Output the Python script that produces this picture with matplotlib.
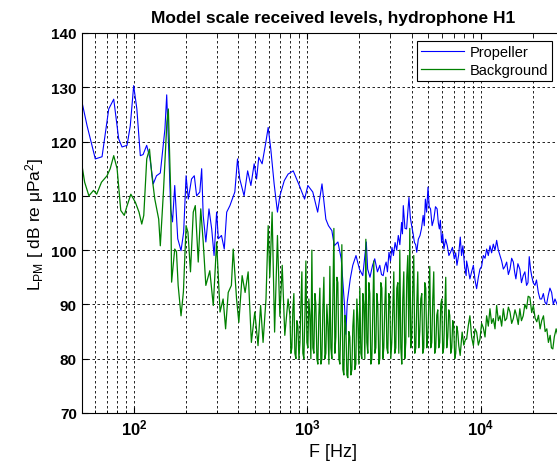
import matplotlib
matplotlib.use("Agg")
import matplotlib.pyplot as plt
import numpy as np

plt.rcParams['font.family'] = ['Liberation Sans', 'DejaVu Sans']
plt.rcParams['mathtext.fontset'] = 'custom'
plt.rcParams['mathtext.rm'] = 'Liberation Sans'
plt.rcParams['mathtext.it'] = 'Liberation Sans:italic'
plt.rcParams['mathtext.bf'] = 'Liberation Sans:bold'

# Propeller (blue)
blue_f = [50, 53.7, 59.9, 65.5, 71.6, 76.5, 81.7, 85.4, 91.3, 95.3, 99.7, 104, 108.9, 113, 118.5,
          123.8, 129.3, 135, 142, 151, 154.6, 159, 163, 167, 172, 179, 187, 193.6, 200,
          206, 215, 223, 230, 240, 246, 251, 260, 271, 281, 290, 300, 307, 320, 332, 343,
          358, 382, 396, 408, 432, 453, 473, 494, 510, 525, 549, 575, 595, 616, 644, 673,
          695, 737, 775, 830, 900, 965, 1008, 1076, 1148, 1216, 1280, 1325, 1386, 1432,
          1502, 1570, 1600, 1640, 1670, 1700, 1770, 1830, 1910, 2000, 2090, 2190, 2230,
          2300, 2380, 2450, 2540, 2620, 2680, 2740, 2800, 2850, 2900, 2960, 3020, 3080,
          3140, 3210, 3280, 3350, 3420, 3500, 3540, 3580, 3660, 3740, 3800, 3860, 3930,
          4000, 4080, 4150, 4220, 4280, 4370, 4470, 4560, 4660, 4730, 4800, 4880, 4970,
          5050, 5140, 5250, 5370, 5490, 5610, 5700, 5780, 5860, 5950, 6040, 6140, 6280,
          6420, 6560, 6700, 6880, 7050, 7180, 7300, 7460, 7630, 7760, 7900, 8080, 8250,
          8300, 8670, 9080, 9480, 9910, 10360, 10830, 11320, 11830, 12370, 12930, 13520,
          14130, 14770, 15440, 15970, 16830, 17600, 18400, 19070, 19680, 20570, 21510,
          22480, 23500, 24560, 25680, 26840, 28000, 30000]
blue_db = [127.5, 122.9, 116.8, 117.2, 126.0, 127.8, 120.5, 119.0, 119.3, 122.9, 130.3, 126.0, 117.4, 117.6, 119.3,
           116.9, 112.2, 113.7, 114.2, 122.3, 128.6, 118.0, 107.6, 105.2, 111.9, 102.1, 99.9, 103.3, 113.7,
           109.4, 113.1, 113.7, 110.0, 110.7, 115.0, 106.4, 101.5, 107.6, 103.9, 99.0, 107.0, 102.1, 102.7, 100.2, 107.0,
           108.2, 110.7, 116.8, 113.1, 110.0, 114.6, 111.9, 115.9, 113.1, 117.1, 115.9, 119.6, 122.6, 118.6, 112.2, 107.0,
           110.0, 112.8, 114.0, 114.6, 111.9, 109.4, 111.9, 110.7, 107.0, 112.2, 105.7, 104.5, 103.6, 100.8,
           101.5, 98.4, 94.7, 89.8, 84.5, 90.4, 94.7, 97.2, 99.0, 96.5, 95.3, 101.5, 96.5,
           95.0, 97.2, 98.4, 96.0, 97.2, 95.5, 95.3, 97.0, 97.8, 96.0, 99.6, 98.0, 100.5,
           99.0, 101.4, 100.0, 102.7, 101.0, 105.1, 103.0, 108.2, 104.0, 103.9, 107.0, 109.7, 106.0,
           104.5, 103.0, 101.4, 101.0, 99.6, 102.0, 102.7, 104.0, 106.4, 104.5, 109.4, 107.0, 111.6,
           108.0, 107.6, 104.5, 105.7, 108.0, 107.6, 105.0, 103.9, 105.5, 101.4, 103.0, 100.2, 102.0,
           100.8, 99.0, 99.6, 100.5, 98.4, 99.5, 97.2, 99.0, 102.4, 99.0, 100.8, 97.0, 95.3,
           98.0, 94.7, 97.2, 92.9, 96.5, 99.0, 100.2, 100.8, 101.1, 101.8, 99.0, 96.5,
           97.8, 96.5, 97.8, 94.7, 96.5, 95.3, 93.5, 98.8, 95.3, 93.5, 92.2,
           91.0, 90.4, 91.7, 92.2, 91.0, 89.5, 89.0]
# extra wiggles of the blue line above 8 kHz
blue_extra_f = [8480, 8870, 9280, 9700, 10130, 10600, 11070, 11570, 12100, 12650, 13220, 13820,
                14450, 15100, 15700, 16400, 17200, 18000, 18750, 19400, 20100, 21000, 22000,
                23000, 24000, 25100, 26250]
blue_extra_db = [96.5, 96.0, 94.5, 95.0, 97.0, 98.5, 99.0, 99.5, 100.0, 100.0, 98.0, 97.0,
                 95.5, 98.5, 96.0, 97.5, 94.0, 96.0, 94.0, 96.5, 94.0, 94.5, 91.0,
                 92.0, 90.0, 93.0, 90.0]

# Background (green)
green_f = [50, 52, 55, 58.5, 61, 65, 70, 73, 76.5, 80, 84, 88, 91, 96, 102, 107, 111, 114, 118.6,
           123, 127, 132, 139, 142, 148, 155, 158, 163, 165, 172, 176, 180, 187, 193, 200,
           205, 212, 220, 226, 235, 243, 251, 260, 274, 287, 300, 314, 327, 338, 350, 365,
           374, 391, 403, 421, 438, 456, 476, 498, 520, 538, 556, 578, 595, 608, 627, 648,
           673, 695, 717, 742, 775,
           794, 815, 837, 860, 883, 907, 931, 956, 982, 1008, 1035, 1063, 1092, 1121, 1151,
           1182, 1214, 1247, 1280, 1315, 1350, 1386, 1424, 1462, 1501, 1542, 1583, 1626,
           1670, 1714, 1760, 1808, 1856, 1906, 1958, 2010, 2064, 2120, 2177, 2235, 2295,
           2357, 2420, 2486, 2552, 2621, 2692, 2764, 2838, 2915, 2993, 3073, 3156, 3241,
           3328, 3418, 3509, 3604, 3701, 3800, 3902, 4007, 4115, 4226, 4339, 4456, 4576,
           4699, 4825, 4955, 5088, 5225, 5365, 5510, 5658, 5810, 5966, 6127, 6291, 6461,
           6634, 6813, 6996, 7184, 7377, 7480, 7620, 7820, 8000, 8180,
           8300, 8480, 8670, 8870, 9080, 9280, 9480, 9700, 9910, 10130, 10360, 10600,
           10830, 11070, 11320, 11570, 11830, 12100, 12370, 12650, 12930, 13220, 13520,
           13820, 14130, 14450, 14770, 15100, 15440, 15780, 16130, 16480, 16830, 17200,
           17600, 18000, 18400, 18800, 19240, 19700, 20140, 20600, 21080, 21550, 22030,
           22500, 23040, 23550, 24080, 24600, 25170, 25600, 26080, 26600, 27260, 28000, 29000]
green_db = [115.9, 112.5, 110.0, 111.0, 110.3, 112.5, 113.7, 115.0, 117.4, 115.0, 107.3, 106.4, 108.0, 110.3, 108.8, 107.0, 104.8, 106.4, 116.8,
            118.6, 113.7, 109.4, 105.7, 100.8, 110.7, 123.6, 126.0, 110.7, 94.1, 100.2, 99.7, 93.5, 87.9, 92.3, 104.5,
            103.3, 96.0, 107.0, 108.2, 97.8, 107.6, 101.5, 93.5, 96.2, 89.8, 101.5, 88.6, 91.0, 85.5, 92.2, 93.5,
            100.2, 91.0, 86.7, 95.3, 92.2, 96.0, 83.0, 88.6, 82.4, 89.8, 83.0, 91.0, 104.5, 95.0, 107.0, 84.9,
            102.7, 87.8, 97.2, 84.3, 91.0,
            88, 82, 92, 80, 86, 83, 96, 80, 98, 82, 88, 100, 81, 90, 79,
            93, 80, 95, 81, 86, 97, 80, 104, 84, 94, 79, 101, 77,
            86, 76.5, 84, 78, 89, 79, 87, 93, 80, 90, 102, 81, 92,
            80, 98, 82, 90, 80, 93, 82, 95, 81, 91, 83, 96, 82,
            94, 100, 79, 96, 83, 99, 104, 84, 99, 82, 96, 85, 92,
            82, 93, 84, 97, 83, 96, 82, 89, 83, 91, 82, 95, 84,
            88, 82, 86, 81, 85, 82.4, 80.6, 84.9, 82.5, 83.6,
            83.6, 86.0, 87.9, 84.0, 82.4, 85.5, 84.9, 82.5, 83.6, 86.5, 85.7, 84.0,
            87.9, 86.0, 89.2, 86.5, 87.4, 85.5, 89.8, 87.0, 87.9, 86.0, 89.2,
            87.0, 87.4, 89.5, 88.6, 86.5, 87.4, 89.0, 87.9, 86.3, 89.2, 87.0,
            87.9, 90.0, 89.2, 91.5, 91.3, 88.5, 89.8, 87.5, 86.8, 88.0, 85.5,
            87.0, 87.9, 85.0, 85.5, 83.0, 84.3, 82.0, 81.8, 84.0, 85.5, 84.0, 85.0]
# in-between samples of the dense green band (0.8 - 7.3 kHz)
green_extra_f = [805, 826, 848, 871, 895, 919, 943, 969, 995, 1021, 1049, 1077, 1107, 1136, 1166,
                 1198, 1230, 1264, 1297, 1333, 1368, 1405, 1443, 1482, 1521, 1563, 1604, 1648,
                 1692, 1737, 1784, 1832, 1881, 1932, 1984, 2037, 2092, 2148, 2206, 2265, 2326,
                 2388, 2453, 2519, 2586, 2656, 2728, 2801, 2876, 2954, 3033, 3114, 3198, 3284,
                 3372, 3464, 3556, 3652, 3750, 3851, 3954, 4061, 4170, 4282, 4397, 4516, 4637,
                 4762, 4890, 5021, 5156, 5295, 5437, 5584, 5734, 5888, 6046, 6209, 6375, 6548,
                 6723, 6904, 7090, 7280]
green_extra_db = [81, 89, 81, 87, 80, 90, 81, 88, 83, 91, 80, 82, 92, 80, 88,
                  79, 89, 80, 90, 79, 82, 91, 81, 95, 80, 87, 78, 88,
                  77, 85, 77, 86, 78, 91, 79, 81, 92, 80, 83, 94, 79,
                  89, 81, 92, 79, 94, 80, 90, 82, 92, 80, 89, 81, 93,
                  81, 82, 91, 80, 95, 84, 82, 93, 81, 90, 82, 91, 81,
                  94, 82, 90, 82, 91, 81, 88, 82, 90, 81, 89, 82, 89,
                  81, 87, 80, 86]

bf = np.array(blue_f + blue_extra_f, dtype=float)
bd = np.array(blue_db + blue_extra_db, dtype=float)
ob = np.argsort(bf)
gf = np.array(green_f + green_extra_f, dtype=float)
gd = np.array(green_db + green_extra_db, dtype=float)
og = np.argsort(gf)

fig = plt.figure(figsize=(5.57, 4.64), dpi=100)
# axes runs past the right edge of the picture, as in the original
ax = fig.add_axes([0.1467, 0.1078, 0.9036, 0.819])

l1, = ax.plot(bf[ob], bd[ob], color='#0000FF', lw=0.8)
l2, = ax.plot(gf[og], gd[og], color='#008000', lw=0.9)

ax.set_xscale('log')
ax.set_xlim(50, 40000)
ax.set_ylim(70, 140)
ax.set_xticks([100, 1000, 10000])
ax.set_xticklabels([r'$\mathbf{10^{2}}$', r'$\mathbf{10^{3}}$', r'$\mathbf{10^{4}}$'], fontsize=12)
ax.set_yticks(range(70, 141, 10))
ax.set_yticklabels([str(v) for v in range(70, 141, 10)], fontsize=11, fontweight='bold')
ax.tick_params(direction='in', top=True, right=True, length=4)
ax.tick_params(which='minor', direction='in', top=True, right=True, length=2)

ax.grid(True, which='major', color='k', ls=(0, (3, 3)), lw=0.6)
ax.xaxis.grid(True, which='minor', color='k', ls=(0, (3, 3)), lw=0.6)
for s in ax.spines.values():
    s.set_linewidth(0.8)

ax.set_title('Model scale received levels, hydrophone H1', fontsize=12.5, fontweight='bold', pad=8)
ax.set_xlabel('F [Hz]', fontsize=13)
ax.set_ylabel(r'L$_{\mathrm{PM}}$ [ dB re μPa$^2$]', fontsize=12.5)

leg = fig.legend([l1, l2], ['Propeller', 'Background'], loc='upper left',
                 bbox_to_anchor=(0.7487, 0.9095), bbox_transform=fig.transFigure,
                 borderaxespad=0, fancybox=False, framealpha=1, edgecolor='k', fontsize=10.5,
                 handlelength=2.9, handletextpad=0.4, borderpad=0.3, labelspacing=0.25)
leg.get_frame().set_linewidth(0.8)

plt.savefig('out.png', dpi=100)
